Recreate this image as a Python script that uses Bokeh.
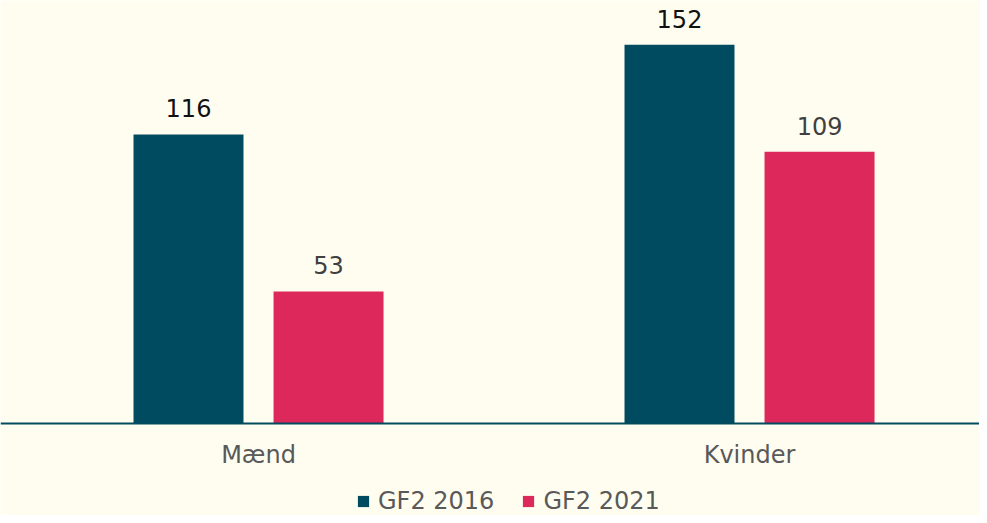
from bokeh.plotting import figure
from bokeh.models import ColumnDataSource, LinearAxis, FixedTicker, Legend, LegendItem
from bokeh.core.properties import value
from bokeh.embed import file_html
from bokeh.resources import INLINE

categories = ["Mænd", "Kvinder"]
series_names = ["GF2 2016", "GF2 2021"]
values_2016 = [116, 152]
values_2021 = [53, 109]

BG = "#FFFDF0"
TEAL = "#004B5F"
PINK = "#DC285A"
FONT = "DejaVu Sans"

p = figure(width=979, height=515, output_backend="svg", toolbar_location=None,
           x_range=(-0.5255, 1.4684), y_range=(-36.92, 169.74),
           x_axis_location=None, y_axis_location=None, min_border=0,
           background_fill_color=BG, border_fill_color=BG)
p.outline_line_color = None
p.grid.visible = False

xs = list(range(len(categories)))
off = 0.1426
bw = 0.224
src16 = ColumnDataSource(dict(x=[x - off for x in xs], top=values_2016,
                              lab=[str(v) for v in values_2016]))
src21 = ColumnDataSource(dict(x=[x + off for x in xs], top=values_2021,
                              lab=[str(v) for v in values_2021]))

r16 = p.vbar(x="x", top="top", bottom=0, width=bw, source=src16, fill_color=TEAL, line_color=None)
r21 = p.vbar(x="x", top="top", bottom=0, width=bw, source=src21, fill_color=PINK, line_color=None)

p.text(x="x", y="top", text="lab", source=src16, text_align="center", text_baseline="alphabetic",
       y_offset=-26, text_font=value(FONT), text_font_size="24px", text_color="#111111")
p.text(x="x", y="top", text="lab", source=src21, text_align="center", text_baseline="alphabetic",
       y_offset=-26, text_font=value(FONT), text_font_size="24px", text_color="#404040")

axis = LinearAxis(fixed_location=0, ticker=FixedTicker(ticks=xs),
                  major_label_overrides={i: c for i, c in enumerate(categories)})
axis.axis_line_color = TEAL
axis.axis_line_width = 2
axis.major_tick_line_color = None
axis.minor_tick_line_color = None
axis.major_label_text_font = FONT
axis.major_label_text_font_size = "24px"
axis.major_label_text_color = "#595959"
axis.major_label_standoff = 12
p.add_layout(axis, "below")

legend = Legend(items=[LegendItem(label=series_names[0], renderers=[r16]),
                       LegendItem(label=series_names[1], renderers=[r21])],
                orientation="horizontal", location=(356, 0))
legend.background_fill_alpha = 0
legend.border_line_color = None
legend.padding = 0
legend.margin = 0
legend.spacing = 27
legend.glyph_width = 14
legend.glyph_height = 14
legend.label_standoff = 8
legend.label_text_font = FONT
legend.label_text_font_size = "24px"
legend.label_text_color = "#595959"
p.add_layout(legend)

open("out.html", "w").write(file_html(p, INLINE))
